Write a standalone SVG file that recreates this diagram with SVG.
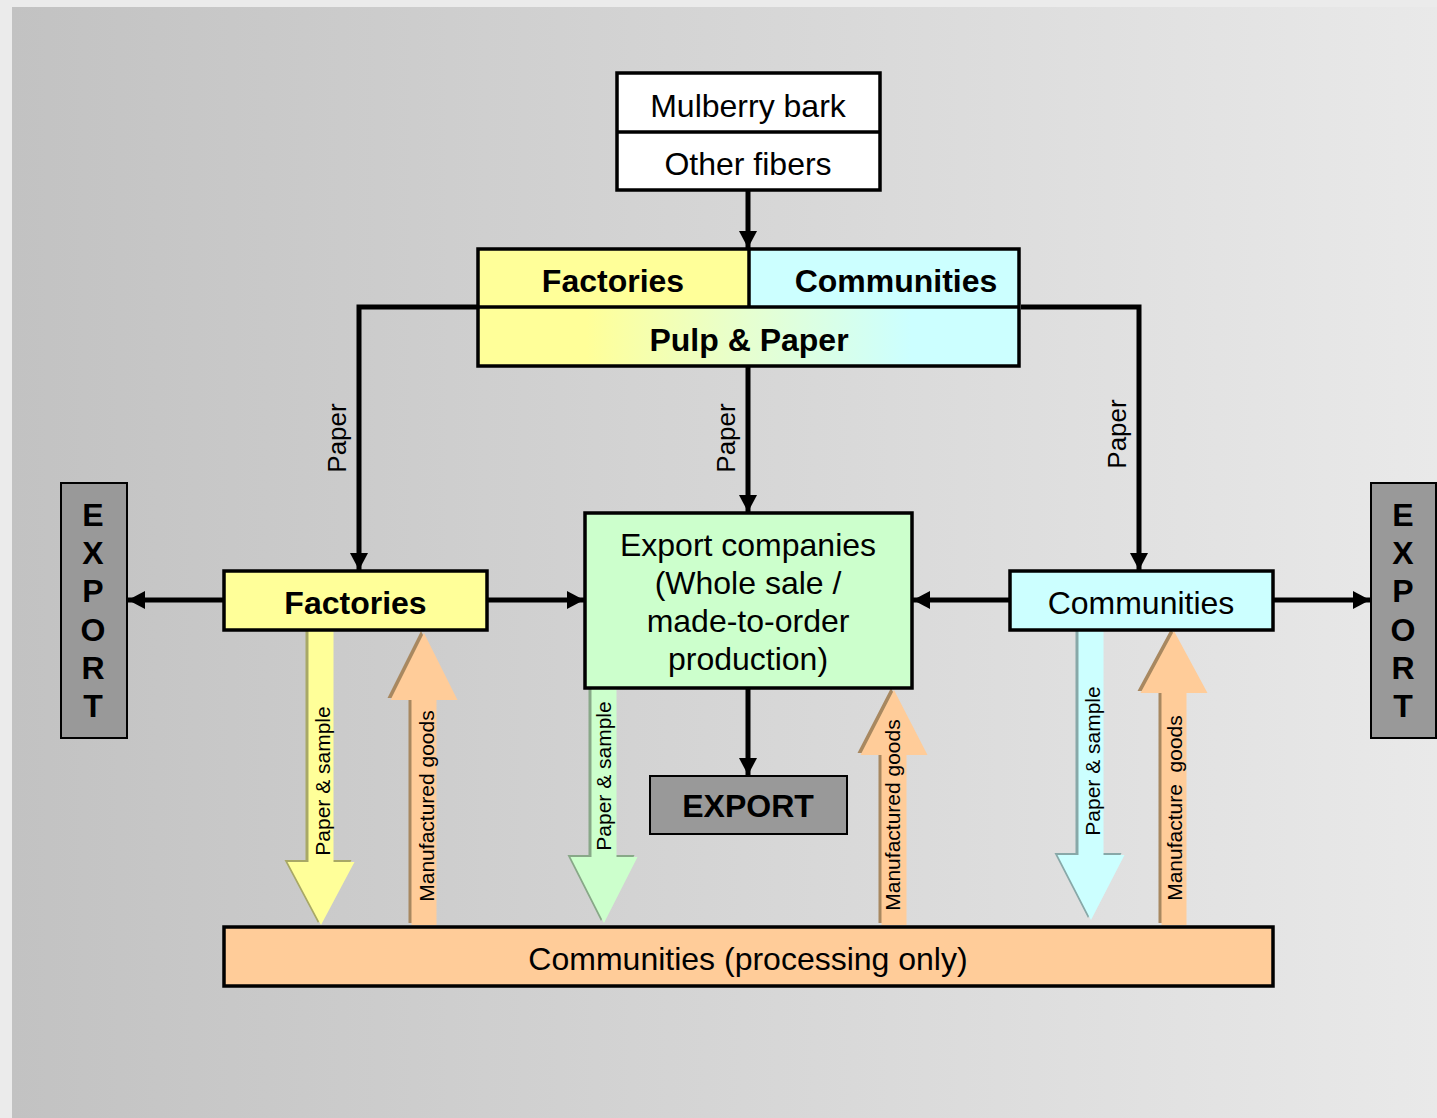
<svg xmlns="http://www.w3.org/2000/svg" width="1437" height="1118" viewBox="0 0 1437 1118">
  <defs>
    <linearGradient id="bg" x1="0" y1="0" x2="1" y2="0">
      <stop offset="0" stop-color="#c2c2c2"/>
      <stop offset="1" stop-color="#e9e9e9"/>
    </linearGradient>
    <linearGradient id="pulp" x1="0" y1="0" x2="1" y2="0">
      <stop offset="0" stop-color="#ffff99"/>
      <stop offset="0.2" stop-color="#ffff99"/>
      <stop offset="0.5" stop-color="#e6ffd0"/>
      <stop offset="0.8" stop-color="#ccffff"/>
      <stop offset="1" stop-color="#ccffff"/>
    </linearGradient>
    <marker id="ah" markerUnits="userSpaceOnUse" markerWidth="18" markerHeight="18" refX="17" refY="9" orient="auto">
      <path d="M0,0 L17,9 L0,18 z" fill="#000"/>
    </marker>
  </defs>
  <style>
    .box { stroke: #000; stroke-width: 3.5; }
    .conn { stroke: #000; stroke-width: 5; fill: none; }
    .t { font-family: "Liberation Sans", Arial, sans-serif; fill: #000; text-anchor: middle; }
    .big { font-size: 32px; }
    .b { font-weight: bold; }
    .lbl { font-size: 26px; }
    .al { font-size: 21px; }
    .yel { fill: #ffff99; }
    .cya { fill: #ccffff; }
    .grn { fill: #ccffcc; }
    .org { fill: #ffcc99; }
    .gry { fill: #999999; }
  </style>

  <rect x="0" y="0" width="1437" height="1118" fill="#ebebeb"/>
  <rect x="12" y="7" width="1425" height="1111" fill="url(#bg)"/>

  <!-- block arrows -->
  <g id="blockarrows">
    <g id="ba-fact-down">
      <polygon points="305.5,629 330.5,629 330.5,860 351.5,860 318,923 284.5,860 305.5,860" fill="#a8a866"/>
      <polygon points="308.5,631 333.5,631 333.5,862 354.5,862 321,925 287.5,862 308.5,862" class="yel"/>
      <text class="t al" transform="translate(322,781) rotate(-90)" y="7.5">Paper &amp; sample</text>
    </g>
    <g id="ba-fact-up">
      <polygon points="408.5,923 408.5,698 387.5,698 421,631 454.5,698 433.5,698 433.5,923" fill="#a88860"/>
      <polygon points="411.5,925 411.5,700 390.5,700 424,633 457.5,700 436.5,700 436.5,925" class="org"/>
      <text class="t al" transform="translate(426,806) rotate(-90)" y="7.5">Manufactured goods</text>
    </g>
    <g id="ba-exp-down">
      <polygon points="588.5,687 613.5,687 613.5,855 634.5,855 601,921 567.5,855 588.5,855" fill="#88a888"/>
      <polygon points="591.5,689 616.5,689 616.5,857 637.5,857 604,923 570.5,857 591.5,857" class="grn"/>
      <text class="t al" transform="translate(603,776) rotate(-90)" y="7.5">Paper &amp; sample</text>
    </g>
    <g id="ba-exp-up">
      <polygon points="878.5,923 878.5,753 857.5,753 891,688 924.5,753 903.5,753 903.5,923" fill="#a88860"/>
      <polygon points="881.5,925 881.5,755 860.5,755 894,690 927.5,755 906.5,755 906.5,925" class="org"/>
      <text class="t al" transform="translate(892,815) rotate(-90)" y="7.5">Manufactured goods</text>
    </g>
    <g id="ba-comm-down">
      <polygon points="1075.5,629 1100.5,629 1100.5,853 1121.5,853 1088,918 1054.5,853 1075.5,853" fill="#88a8a8"/>
      <polygon points="1078.5,631 1103.5,631 1103.5,855 1124.5,855 1091,920 1057.5,855 1078.5,855" class="cya"/>
      <text class="t al" transform="translate(1092,761) rotate(-90)" y="7.5">Paper &amp; sample</text>
    </g>
    <g id="ba-comm-up">
      <polygon points="1158.5,923 1158.5,691 1137.5,691 1171,629 1204.5,691 1183.5,691 1183.5,923" fill="#a88860"/>
      <polygon points="1161.5,925 1161.5,693 1140.5,693 1174,631 1207.5,693 1186.5,693 1186.5,925" class="org"/>
      <text class="t al" transform="translate(1174,808) rotate(-90)" y="7.5" xml:space="preserve">Manufacture  goods</text>
    </g>
  </g>

  <!-- connectors -->
  <g id="connectors">
    <line class="conn" x1="748" y1="190" x2="748" y2="248" marker-end="url(#ah)"/>
    <polyline class="conn" points="478,307 359,307 359,570" marker-end="url(#ah)"/>
    <polyline class="conn" points="1021,307 1139,307 1139,570" marker-end="url(#ah)"/>
    <line class="conn" x1="748" y1="366" x2="748" y2="512" marker-end="url(#ah)"/>
    <line class="conn" x1="223" y1="600" x2="128" y2="600" marker-end="url(#ah)"/>
    <line class="conn" x1="487" y1="600" x2="584" y2="600" marker-end="url(#ah)"/>
    <line class="conn" x1="1010" y1="600" x2="913" y2="600" marker-end="url(#ah)"/>
    <line class="conn" x1="1273" y1="600" x2="1370" y2="600" marker-end="url(#ah)"/>
    <line class="conn" x1="748" y1="688" x2="748" y2="775" marker-end="url(#ah)"/>
    <text class="t lbl" transform="translate(337,438) rotate(-90)" y="9.4">Paper</text>
    <text class="t lbl" transform="translate(726,438) rotate(-90)" y="9.4">Paper</text>
    <text class="t lbl" transform="translate(1117,434) rotate(-90)" y="9.4">Paper</text>
  </g>

  <!-- nodes -->
  <g id="raw">
    <rect class="box" x="617" y="73" width="263" height="117" fill="#ffffff"/>
    <line x1="617" y1="132" x2="880" y2="132" stroke="#000" stroke-width="3.5"/>
    <text class="t big" x="748" y="117">Mulberry bark</text>
    <text class="t big" x="748" y="175">Other fibers</text>
  </g>

  <g id="pulp-paper">
    <rect x="478" y="249" width="271" height="58" class="yel"/>
    <rect x="749" y="249" width="270" height="58" class="cya"/>
    <rect x="478" y="307" width="541" height="59" fill="url(#pulp)"/>
    <rect class="box" x="478" y="249" width="541" height="117" fill="none"/>
    <line x1="478" y1="307" x2="1019" y2="307" stroke="#000" stroke-width="3.5"/>
    <line x1="749" y1="249" x2="749" y2="307" stroke="#000" stroke-width="3.5"/>
    <text class="t big b" x="613" y="292">Factories</text>
    <text class="t big b" x="896" y="292">Communities</text>
    <text class="t big b" x="749" y="351">Pulp &amp; Paper</text>
  </g>

  <g id="factories">
    <rect class="box yel" x="224" y="571" width="263" height="59"/>
    <text class="t big b" x="355.5" y="614">Factories</text>
  </g>

  <g id="export-companies">
    <rect class="box grn" x="585" y="513" width="327" height="175"/>
    <text class="t big" x="748" y="556">Export companies</text>
    <text class="t big" x="748" y="594">(Whole sale /</text>
    <text class="t big" x="748" y="632">made-to-order</text>
    <text class="t big" x="748" y="670">production)</text>
  </g>

  <g id="communities">
    <rect class="box cya" x="1010" y="571" width="263" height="59"/>
    <text class="t big" x="1141" y="614">Communities</text>
  </g>

  <g id="export-left">
    <rect x="61" y="483" width="66" height="255" class="gry" stroke="#000" stroke-width="2"/>
    <text class="t big b" x="93" y="526">E</text>
    <text class="t big b" x="93" y="564">X</text>
    <text class="t big b" x="93" y="602">P</text>
    <text class="t big b" x="93" y="641">O</text>
    <text class="t big b" x="93" y="679">R</text>
    <text class="t big b" x="93" y="717">T</text>
  </g>

  <g id="export-right">
    <rect x="1371" y="483" width="65" height="255" class="gry" stroke="#000" stroke-width="2"/>
    <text class="t big b" x="1403" y="526">E</text>
    <text class="t big b" x="1403" y="564">X</text>
    <text class="t big b" x="1403" y="602">P</text>
    <text class="t big b" x="1403" y="641">O</text>
    <text class="t big b" x="1403" y="679">R</text>
    <text class="t big b" x="1403" y="717">T</text>
  </g>

  <g id="export-center">
    <rect x="650" y="776" width="197" height="58" class="gry" stroke="#000" stroke-width="2"/>
    <text class="t big b" x="748" y="817">EXPORT</text>
  </g>

  <g id="processing">
    <rect class="box org" x="224" y="927" width="1049" height="59"/>
    <text class="t big" x="748" y="970">Communities (processing only)</text>
  </g>
</svg>
